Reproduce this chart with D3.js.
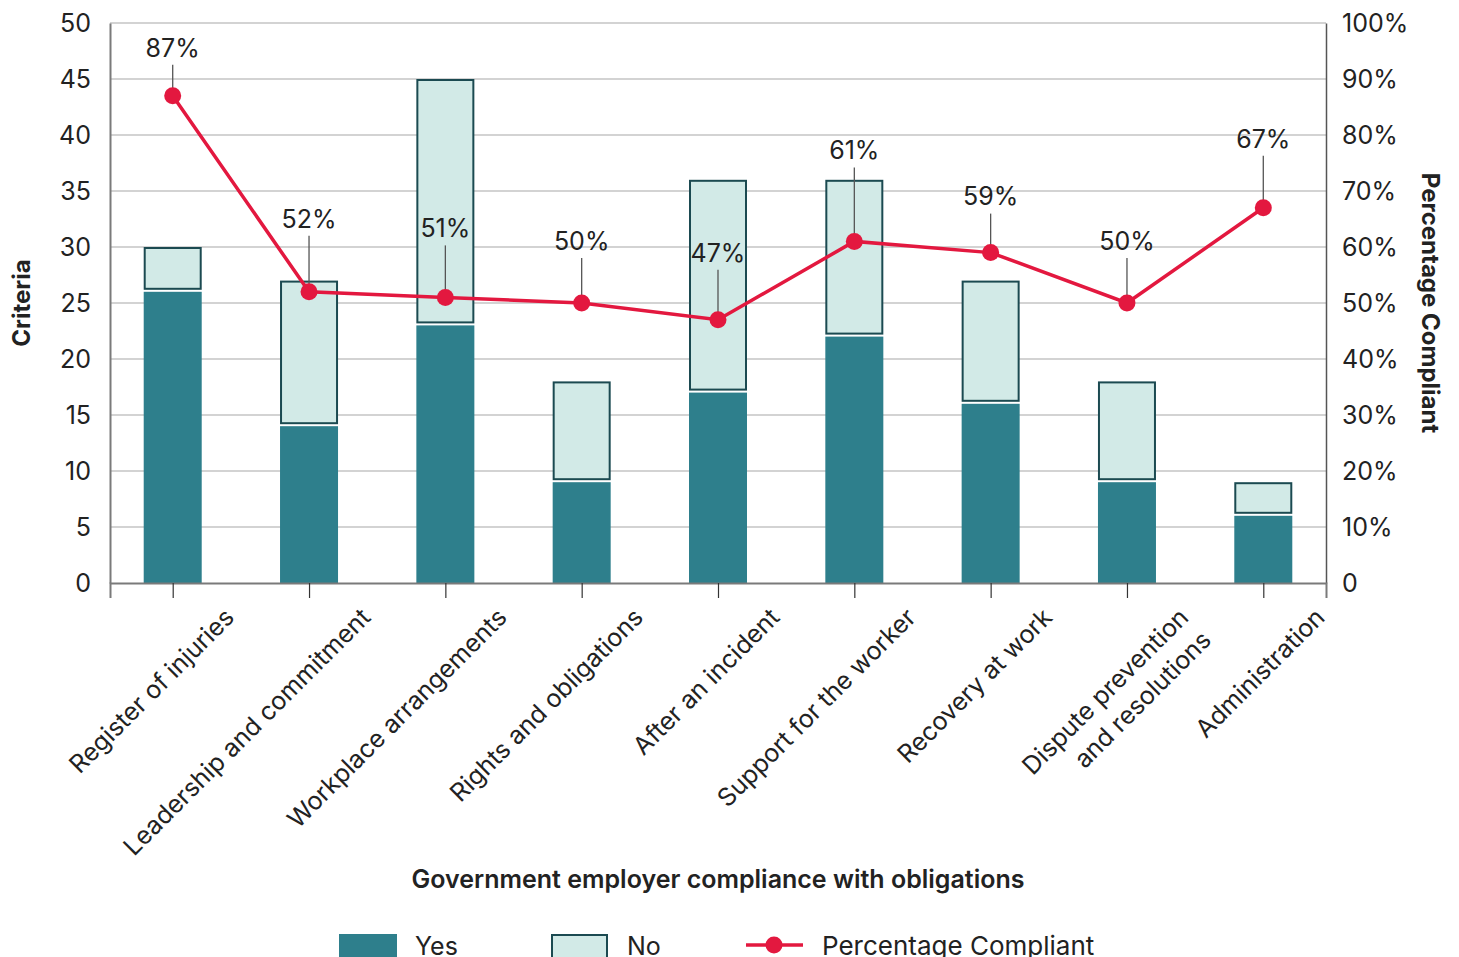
<html>
<head>
<script src="https://d3js.org/d3.v7.min.js"></script>
<style>
body { margin: 0; background: #fff; }
svg { font-family: Inter, "Noto Sans", sans-serif; }
</style>
</head>
<body>
<svg id="chart" width="1459" height="957"></svg>
<script>
// data
var categories = ["Register of injuries", "Leadership and commitment", "Workplace arrangements",
  "Rights and obligations", "After an incident", "Support for the worker", "Recovery at work",
  "Dispute prevention|and resolutions", "Administration"];
var yesCounts = [26, 14, 23, 9, 17, 22, 16, 9, 6];
var noCounts  = [4, 13, 22, 9, 19, 14, 11, 9, 3];
var pctCompliant = [0.87, 0.52, 0.51, 0.50, 0.47, 0.61, 0.59, 0.50, 0.67];
var leftTicks = [0, 5, 10, 15, 20, 25, 30, 35, 40, 45, 50];
var rightTicks = [0, 0.1, 0.2, 0.3, 0.4, 0.5, 0.6, 0.7, 0.8, 0.9, 1];
// how far each % label sits above its point (px)
var labelLift = [48, 73, 69, 62, 67, 91, 56, 62, 69];

var teal = "#2e7f8c", pale = "#d2eae7", edge = "#1b4a51", red = "#e3183f";
var plotL = 110, plotR = 1326, plotT = 23, plotB = 583;

var svg = d3.select("#chart");

var x = d3.scalePoint().domain(categories).range([plotL, plotR]).padding(0.46);
var y = d3.scaleLinear().domain([0, 50]).range([plotB, plotT]);
var yp = d3.scaleLinear().domain([0, 1]).range([plotB, plotT]);
var barW = 58;

// grid
svg.append("g").selectAll("line")
  .data(leftTicks.slice(1))
  .enter().append("line")
  .attr("x1", plotL).attr("x2", plotR)
  .attr("y1", function(d) { return y(d); }).attr("y2", function(d) { return y(d); })
  .attr("stroke", "#d3d3d3").attr("stroke-width", 2);

var rows = categories.map(function(c, i) {
  return {cat: c, yes: yesCounts[i], no: noCounts[i], pct: pctCompliant[i], lift: labelLift[i]};
});

// yes bars
svg.append("g").selectAll("rect")
  .data(rows).enter().append("rect")
  .attr("x", function(d) { return x(d.cat) - barW / 2; })
  .attr("y", function(d) { return y(d.yes); })
  .attr("width", barW)
  .attr("height", function(d) { return y(0) - y(d.yes); })
  .attr("fill", teal);

// no bars
svg.append("g").selectAll("rect")
  .data(rows).enter().append("rect")
  .attr("x", function(d) { return x(d.cat) - barW / 2 + 1; })
  .attr("y", function(d) { return y(d.yes + d.no) + 1; })
  .attr("width", barW - 2)
  .attr("height", function(d) { return y(d.yes) - y(d.yes + d.no) - 4; })
  .attr("fill", pale).attr("stroke", edge).attr("stroke-width", 2);

// axes
var axL = svg.append("g").attr("transform", "translate(" + plotL + ",0)")
  .call(d3.axisLeft(y).tickValues(leftTicks).tickSize(0).tickPadding(19));
axL.select(".domain").attr("stroke", "#7a7a7a").attr("stroke-width", 2);

var axR = svg.append("g").attr("transform", "translate(" + plotR + ",0)")
  .call(d3.axisRight(yp).tickValues(rightTicks).tickSize(0).tickPadding(16)
    .tickFormat(function(d) { return d === 0 ? "0" : d3.format(".0%")(d); }));
axR.select(".domain").attr("stroke", "#555").attr("stroke-width", 1.5);

var axB = svg.append("g").attr("transform", "translate(0," + plotB + ")")
  .call(d3.axisBottom(x).tickSize(15).tickFormat(""));
axB.select(".domain").attr("stroke", "#7a7a7a").attr("stroke-width", 2);
axB.selectAll(".tick line").attr("stroke", "#333").attr("stroke-width", 1.2);

svg.selectAll(".tick text").attr("font-size", 25).attr("font-family", "Inter, sans-serif").attr("fill", "#222");

// category labels
var catLabels = svg.append("g").selectAll("text")
  .data(categories).enter().append("text")
  .attr("transform", function(d) { return "translate(" + (x(d) + 63) + "," + 619 + ") rotate(-45)"; })
  .attr("text-anchor", "end")
  .attr("font-size", 25).attr("fill", "#222");
catLabels.each(function(d) {
  var parts = d.split("|");
  var t = d3.select(this);
  parts.forEach(function(p, k) {
    t.append("tspan").attr("x", 0).attr("dy", k === 0 ? 0 : 32).text(p);
  });
});

// line
var line = d3.line()
  .x(function(d) { return x(d.cat); })
  .y(function(d) { return yp(d.pct); });
svg.append("path").datum(rows)
  .attr("d", line).attr("fill", "none").attr("stroke", red).attr("stroke-width", 3.5);

// leader lines and labels
svg.append("g").selectAll("line")
  .data(rows).enter().append("line")
  .attr("x1", function(d) { return x(d.cat); }).attr("x2", function(d) { return x(d.cat); })
  .attr("y1", function(d) { return yp(d.pct) - d.lift + 17; })
  .attr("y2", function(d) { return yp(d.pct); })
  .attr("stroke", "#555").attr("stroke-width", 1.3);

svg.append("g").selectAll("circle")
  .data(rows).enter().append("circle")
  .attr("cx", function(d) { return x(d.cat); })
  .attr("cy", function(d) { return yp(d.pct); })
  .attr("r", 8.5).attr("fill", red);

svg.append("g").selectAll("text")
  .data(rows).enter().append("text")
  .attr("x", function(d) { return x(d.cat); })
  .attr("y", function(d) { return yp(d.pct) - d.lift; })
  .attr("dy", "0.35em")
  .attr("text-anchor", "middle")
  .attr("font-size", 25).attr("fill", "#222")
  .text(function(d) { return d3.format(".0%")(d.pct); });

// axis titles
svg.append("text")
  .attr("transform", "translate(30," + ((plotT + plotB) / 2) + ") rotate(-90)")
  .attr("text-anchor", "middle").attr("font-size", 24).attr("font-weight", 700).attr("fill", "#222")
  .text("Criteria");

svg.append("text")
  .attr("transform", "translate(1422," + ((plotT + plotB) / 2) + ") rotate(90)")
  .attr("text-anchor", "middle").attr("font-size", 24).attr("font-weight", 700).attr("fill", "#222")
  .text("Percentage Compliant");

svg.append("text")
  .attr("x", (plotL + plotR) / 2).attr("y", 888)
  .attr("text-anchor", "middle").attr("font-size", 25).attr("font-weight", 600).attr("fill", "#222")
  .text("Government employer compliance with obligations");

// legend
var lg = svg.append("g");
lg.append("rect").attr("x", 339).attr("y", 934).attr("width", 58).attr("height", 30).attr("fill", teal);
lg.append("text").attr("x", 415).attr("y", 955).attr("font-size", 25).attr("fill", "#222").text("Yes");
lg.append("rect").attr("x", 552).attr("y", 935).attr("width", 55).attr("height", 30)
  .attr("fill", pale).attr("stroke", edge).attr("stroke-width", 2);
lg.append("text").attr("x", 627).attr("y", 955).attr("font-size", 25).attr("fill", "#222").text("No");
lg.append("line").attr("x1", 746).attr("x2", 803).attr("y1", 945).attr("y2", 945)
  .attr("stroke", red).attr("stroke-width", 3.5);
lg.append("circle").attr("cx", 774).attr("cy", 945).attr("r", 8.5).attr("fill", red);
lg.append("text").attr("x", 822).attr("y", 955).attr("font-size", 26).attr("fill", "#222").text("Percentage Compliant");
</script>
</body>
</html>
